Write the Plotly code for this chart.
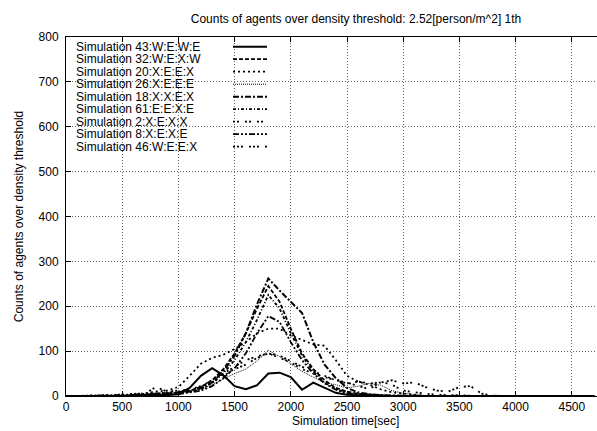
import plotly.graph_objects as go

time_sec = [0, 100, 200, 300, 400, 500, 600, 700, 800, 900,
            1000, 1100, 1200, 1300, 1400, 1500, 1600, 1700, 1800, 1900,
            2000, 2100, 2200, 2300, 2400, 2500, 2600, 2700, 2800, 2900,
            3000, 3100, 3200, 3300, 3400, 3500, 3600, 3700, 3800, 3900,
            4000, 4100, 4200, 4300, 4400, 4500, 4600, 4700]

sim43 = [0, 0, 0, 0, 1, 0, 2, 1, 3, 2, 4, 18, 45, 62, 46, 22, 15, 24, 50, 52,
         42, 14, 30, 18, 7, 3, 1, 0, 0, 0, 0, 0, 0, 0, 0, 0, 0, 0, 0, 0,
         0, 0, 0, 0, 0, 0, 0, 0]
sim32 = [0, 0, 0, 0, 0, 0, 1, 3, 6, 5, 8, 12, 20, 35, 60, 95, 140, 195, 245, 210,
         150, 95, 60, 35, 18, 10, 5, 3, 1, 0, 0, 0, 0, 0, 0, 0, 0, 0, 0, 0,
         0, 0, 0, 0, 0, 0, 0, 0]
sim20 = [0, 0, 0, 0, 1, 2, 3, 6, 10, 12, 20, 45, 72, 85, 92, 105, 120, 140, 150, 150,
         135, 125, 115, 112, 80, 45, 32, 25, 15, 8, 5, 2, 0, 0, 0, 0, 0, 0, 0, 0,
         0, 0, 0, 0, 0, 0, 0, 0]
sim26 = [0, 0, 0, 0, 0, 0, 1, 3, 5, 8, 6, 10, 15, 25, 38, 50, 60, 78, 102, 88,
         72, 55, 42, 30, 25, 18, 22, 28, 24, 12, 6, 3, 1, 0, 0, 0, 0, 0, 0, 0,
         0, 0, 0, 0, 0, 0, 0, 0]
sim18 = [0, 0, 0, 0, 0, 1, 0, 2, 5, 4, 8, 10, 18, 30, 55, 90, 140, 205, 262, 235,
         210, 185, 120, 70, 40, 18, 8, 4, 2, 1, 0, 0, 0, 0, 0, 0, 0, 0, 0, 0,
         0, 0, 0, 0, 0, 0, 0, 0]
sim61 = [0, 0, 0, 0, 0, 0, 1, 2, 4, 3, 5, 10, 15, 30, 50, 80, 120, 170, 225, 195,
         140, 90, 55, 30, 15, 8, 4, 2, 1, 0, 0, 0, 0, 0, 0, 0, 0, 0, 0, 0,
         0, 0, 0, 0, 0, 0, 0, 0]
sim2 = [0, 0, 0, 0, 1, 2, 3, 5, 20, 10, 12, 15, 22, 35, 50, 65, 80, 88, 95, 85,
        75, 60, 50, 42, 35, 30, 22, 15, 32, 25, 12, 8, 5, 3, 2, 1, 0, 0, 0, 0,
        0, 0, 0, 0, 0, 0, 0, 0]
sim8 = [0, 0, 0, 0, 0, 1, 2, 3, 4, 6, 4, 8, 12, 22, 40, 62, 95, 140, 178, 165,
        120, 80, 50, 28, 14, 6, 3, 1, 0, 0, 0, 0, 0, 0, 0, 0, 0, 0, 0, 0,
        0, 0, 0, 0, 0, 0, 0, 0]
sim46 = [0, 0, 0, 1, 2, 3, 4, 6, 5, 8, 10, 12, 20, 30, 45, 60, 70, 85, 95, 90,
         78, 65, 55, 45, 35, 28, 32, 28, 30, 35, 28, 30, 20, 12, 10, 20, 22, 5, 1, 0,
         0, 0, 0, 0, 0, 0, 0, 0]

series_names = ["Simulation 43:W:E:W:E", "Simulation 32:W:E:X:W", "Simulation 20:X:E:E:X",
                "Simulation 26:X:E:E:E", "Simulation 18:X:X:E:X", "Simulation 61:E:E:X:E",
                "Simulation 2:X:E:X:X", "Simulation 8:X:E:X:E", "Simulation 46:W:E:E:X"]
series_values = [sim43, sim32, sim20, sim26, sim18, sim61, sim2, sim8, sim46]
dashes = ["solid", "4px,2px", "2px,3px", "1px,1px", "6px,2px,2px,2px",
          "3px,2px,1px,2px", "2px,2px,2px,6px", "6px,2px,2px,2px,2px,2px",
          "2px,2px,2px,2px,2px,6px"]
widths = [2, 1.8, 1.8, 1, 2, 1.8, 1.8, 1.8, 1.8]

title_text = "Counts of agents over density threshold: 2.52[person/m^2] 1th"
x_title = "Simulation time[sec]"
y_title = "Counts of agents over density threshold"

FONT = "Liberation Sans, Arial, sans-serif"

fig = go.Figure()
for name, vals, d, w in zip(series_names, series_values, dashes, widths):
    fig.add_trace(go.Scatter(x=time_sec, y=vals, mode="lines", name=name,
                             line=dict(color="black", width=w, dash=d),
                             showlegend=False))

# plot area geometry (pixels) used for legend placement
L, R, T, B = 66, 0, 37, 35
W, H = 597, 431
pw, ph = W - L - R, H - T - B

shapes = []
annotations = []
for i, (name, d, w) in enumerate(zip(series_names, dashes, widths)):
    ypx = 46.7 + 12.5 * i
    yp = (H - B - ypx) / ph
    annotations.append(dict(x=(74 - L) / pw, y=yp, xref="paper", yref="paper",
                            text=name, showarrow=False, xanchor="left", yanchor="middle",
                            font=dict(size=12, color="black", family=FONT)))
    shapes.append(dict(type="line", xref="paper", yref="paper",
                       x0=(233 - L) / pw, x1=(267 - L) / pw, y0=yp, y1=yp,
                       line=dict(color="black", width=w, dash=d)))

annotations.append(dict(x=(345 - L) / pw, y=(H - B - 421) / ph, xref="paper", yref="paper",
                        text=x_title, showarrow=False, xanchor="center", yanchor="middle",
                        font=dict(size=12, color="black", family=FONT)))

fig.update_layout(
    width=W, height=H,
    margin=dict(l=L, r=R, t=T, b=B),
    paper_bgcolor="white", plot_bgcolor="white",
    font=dict(family=FONT, size=12, color="black"),
    title=dict(text=title_text, x=356 / W, xanchor="center", xref="container",
               y=1 - 19 / H, yanchor="middle", yref="container",
               font=dict(size=12, color="black")),
    shapes=shapes, annotations=annotations,
    showlegend=False,
)
fig.update_xaxes(range=[0, 4724], tickmode="linear", tick0=0, dtick=500,
                 showline=True, linecolor="black", linewidth=1, mirror="ticks",
                 ticks="inside", ticklen=5, tickcolor="black",
                 showgrid=True, gridcolor="#666", griddash="1px,2px", gridwidth=1,
                 zeroline=False, tickfont=dict(size=12))
fig.update_yaxes(range=[0, 800], tickmode="linear", tick0=0, dtick=100,
                 showline=True, linecolor="black", linewidth=1, mirror=False,
                 ticks="inside", ticklen=5, tickcolor="black",
                 showgrid=True, gridcolor="#666", griddash="1px,2px", gridwidth=1,
                 zeroline=False, ticklabelstandoff=4, tickfont=dict(size=12),
                 title=dict(text=y_title, standoff=12, font=dict(size=12, family=FONT)))

fig.write_html("out.html")
